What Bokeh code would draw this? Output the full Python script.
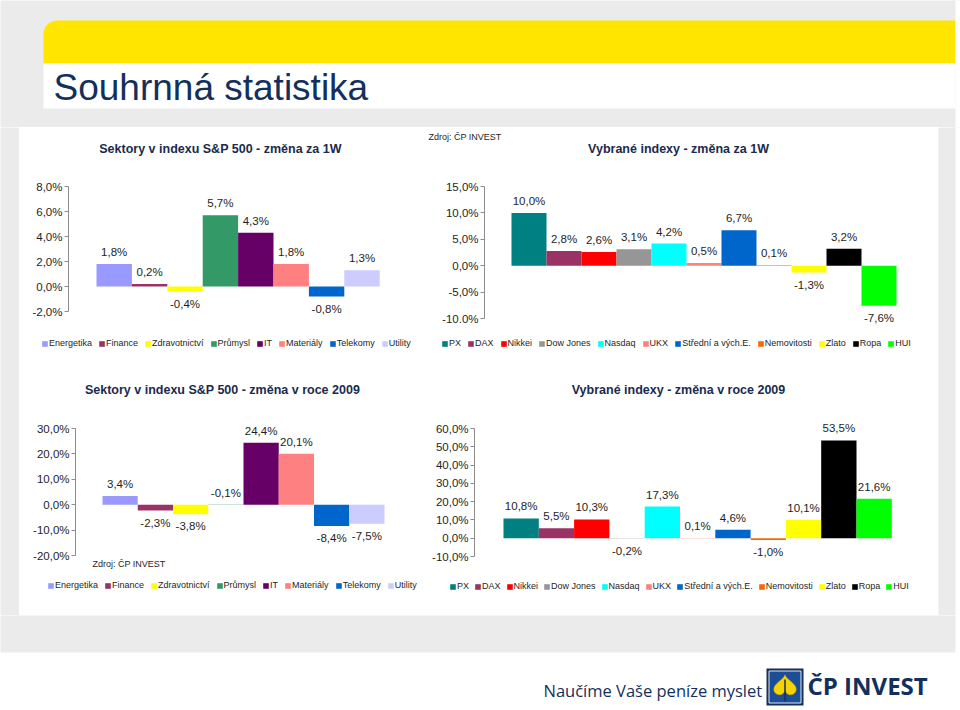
import math
from bokeh.plotting import figure
from bokeh.models import (ColumnDataSource, LabelSet, Label, Legend, LegendItem,
                          LinearAxis, FixedTicker, Range1d, BoxAnnotation)
from bokeh.layouts import column, row
from bokeh.embed import file_html
from bokeh.resources import INLINE
from bokeh.core.properties import value

# ---------------- data ----------------
sectors = ["Energetika", "Finance", "Zdravotnictví", "Průmysl", "IT", "Materiály", "Telekomy", "Utility"]
sector_colors = ["#9999ff", "#993366", "#ffff00", "#339966", "#660066", "#ff8080", "#0066cc", "#ccccff"]
sectors_1w = [1.8, 0.2, -0.4, 5.7, 4.3, 1.8, -0.8, 1.3]
sectors_2009 = [3.4, -2.3, -3.8, -0.1, 24.4, 20.1, -8.4, -7.5]

indexes = ["PX", "DAX", "Nikkei", "Dow Jones", "Nasdaq", "UKX", "Střední a vých.E.",
           "Nemovitosti", "Zlato", "Ropa", "HUI"]
index_colors = ["#008080", "#993366", "#ff0000", "#969696", "#00ffff", "#ff8080", "#0066cc",
                "#ff6600", "#ffff00", "#000000", "#00ff00"]
indexes_1w = [10.0, 2.8, 2.6, 3.1, 4.2, 0.5, 6.7, 0.1, -1.3, 3.2, -7.6]
indexes_2009 = [10.8, 5.5, 10.3, -0.2, 17.3, 0.1, 4.6, -1.0, 10.1, 53.5, 21.6]

ticks_sec_1w = [-2, 0, 2, 4, 6, 8]
tick_labels_sec_1w = ["-2,0%", "0,0%", "2,0%", "4,0%", "6,0%", "8,0%"]
ticks_idx_1w = [-10, -5, 0, 5, 10, 15]
tick_labels_idx_1w = ["-10.0%", "-5,0%", "0,0%", "5,0%", "10,0%", "15,0%"]
ticks_sec_2009 = [-20, -10, 0, 10, 20, 30]
tick_labels_sec_2009 = ["-20,0%", "-10,0%", "0,0%", "10,0%", "20,0%", "30,0%"]
ticks_idx_2009 = [-10, 0, 10, 20, 30, 40, 50, 60]
tick_labels_idx_2009 = ["-10,0%", "0,0%", "10,0%", "20,0%", "30,0%", "40,0%", "50,0%", "60,0%"]

page_title = "Souhrnná statistika"
title_sec_1w = "Sektory v indexu S&P 500 - změna za 1W"
title_idx_1w = "Vybrané indexy - změna za 1W"
title_sec_2009 = "Sektory v indexu S&P 500 - změna v roce 2009"
title_idx_2009 = "Vybrané indexy - změna v roce 2009"
source_note = "Zdroj: ČP INVEST"
tagline = "Naučíme Vaše peníze myslet"
brand = "ČP INVEST"

# ---------------- styles ----------------
GRAY = "#ebebeb"
NAVY = "#13305d"
TITLE_NAVY = "#1a2b4c"
TEXT = "#1e1e1e"
AXIS = "#8c8c8c"
FONT = "Liberation Sans"


def fmt(v):
    return f"{v:.1f}".replace(".", ",") + "%"


def blank(w, h, bg):
    p = figure(width=w, height=h, x_range=Range1d(0, w), y_range=Range1d(0, h),
               output_backend="svg", toolbar_location=None, min_border=0,
               x_axis_location=None, y_axis_location=None,
               background_fill_color=bg, border_fill_color=bg, outline_line_color=None)
    p.grid.visible = False
    return p


def bar_chart(title, title_xy, names, colors, vals, ticks, tick_labels, w, h,
              geo, legend_xy, legend_spacing, flip=(), note_xy=None):
    # geo: axis x px, first bar left px, bar width px, top tick px, bottom tick px (from canvas top-left)
    ax_px, bl, b, yt, yb = geo
    n = len(vals)
    T, B = ticks[-1], ticks[0]
    s = (yb - yt) / (T - B)
    p = figure(width=w, height=h,
               x_range=Range1d(-0.5 - bl / b, -0.5 + (w - bl) / b),
               y_range=Range1d(T - (h - yt) / s, T + yt / s),
               output_backend="svg", toolbar_location=None,
               x_axis_location=None, y_axis_location=None, min_border=0,
               background_fill_color="white", border_fill_color="white",
               outline_line_color=None)
    p.grid.visible = False
    dy = []
    for nm, v in zip(names, vals):
        up = (v >= 0) != (nm in flip)
        dy.append(12 if up else -12)
    src = ColumnDataSource(dict(x=list(range(n)), top=vals, color=colors,
                                label=[fmt(v) for v in vals], dy=dy))
    r = p.vbar(x="x", top="top", bottom=0, width=1.0, fill_color="color",
               line_color=None, source=src)
    p.add_layout(LabelSet(x="x", y="top", text="label", y_offset="dy", source=src,
                          text_align="center", text_baseline="middle",
                          text_font=value(FONT), text_font_size="11.5px",
                          text_color=TEXT))
    ax = LinearAxis(ticker=FixedTicker(ticks=ticks),
                    major_label_overrides={t: lab for t, lab in zip(ticks, tick_labels)},
                    bounds=(B, T), fixed_location=-0.5 - (bl - ax_px) / b,
                    axis_line_color=AXIS, major_tick_line_color=AXIS,
                    major_tick_out=4, major_tick_in=0, minor_tick_out=0, minor_tick_in=0,
                    major_label_standoff=2, major_label_text_font=FONT,
                    major_label_text_font_size="11.5px", major_label_text_color=TEXT)
    p.add_layout(ax, "left")
    items = [LegendItem(label=nm, renderers=[r], index=i) for i, nm in enumerate(names)]
    leg = Legend(items=items, orientation="horizontal", location=legend_xy,
                 glyph_width=7, glyph_height=7, label_height=10, label_width=0,
                 label_standoff=1, spacing=legend_spacing, padding=0, margin=0,
                 border_line_color=None, background_fill_alpha=0,
                 label_text_font=FONT, label_text_font_size="9px",
                 label_text_color=TEXT)
    p.add_layout(leg, "center")
    p.add_layout(Label(x=title_xy[0], y=h - title_xy[1], x_units="screen", y_units="screen",
                       text=title, text_align="center", text_baseline="middle",
                       text_font=FONT, text_font_style="bold", text_font_size="12.5px",
                       text_color=TITLE_NAVY))
    if note_xy is not None:
        p.add_layout(Label(x=note_xy[0], y=h - note_xy[1], x_units="screen", y_units="screen",
                           text=source_note, text_align="left", text_baseline="middle",
                           text_font=FONT, text_font_size="9px",
                           text_color=TEXT))
    return p


c1 = bar_chart(title_sec_1w, (201, 21), sectors, sector_colors, sectors_1w,
               ticks_sec_1w, tick_labels_sec_1w, 401, 241,
               (49, 77, 35.4, 59, 184), (22, 20), 6)
c2 = bar_chart(title_idx_1w, (258, 21), indexes, index_colors, indexes_1w,
               ticks_idx_1w, tick_labels_idx_1w, 518, 241,
               (64, 91, 35.0, 59, 191), (21, 20), 6, note_xy=(8, 9))
c3 = bar_chart(title_sec_2009, (203, 21), sectors, sector_colors, sectors_2009,
               ticks_sec_2009, tick_labels_sec_2009, 401, 247,
               (56, 83, 35.25, 60, 187), (28, 25), 6,
               flip=("Průmysl",), note_xy=(73, 195))
c4 = bar_chart(title_idx_2009, (258, 21), indexes, index_colors, indexes_2009,
               ticks_idx_2009, tick_labels_idx_2009, 518, 247,
               (54, 83, 35.3, 60, 188), (29, 24), 5)

# ---------------- header ----------------
HW, HH = 960, 127
header = blank(HW, HH, GRAY)
header.quad(left=[955], right=[HW + 5], bottom=[-5], top=[HH + 5], fill_color="white", line_color=None)
header.add_layout(BoxAnnotation(left=43, right=955, bottom=HH - 63, top=HH - 20,
                                fill_color="#ffe500", fill_alpha=1, line_color=None,
                                border_radius=dict(top_left=14, top_right=0,
                                                   bottom_right=0, bottom_left=0),
                                level="underlay"))
header.add_layout(BoxAnnotation(left=43, right=955, bottom=HH - 108, top=HH - 63,
                                fill_color="white", fill_alpha=1, line_color=None,
                                level="underlay"))
header.text(x=[53], y=[HH - 87], text=[page_title], text_font=value(FONT),
            text_font_size="37px", text_baseline="middle", text_color=NAVY)

# ---------------- side strips ----------------
gray_l = blank(19, 488, GRAY)
gray_r = blank(22, 488, GRAY)
gray_r.quad(left=[17], right=[30], bottom=[-5], top=[500], fill_color="white", line_color=None)

# ---------------- footer ----------------
FW, FH = 960, 95
footer = blank(FW, FH, "white")
footer.add_layout(BoxAnnotation(left=-5, right=955, bottom=FH - 37, top=FH + 5,
                                fill_color=GRAY, fill_alpha=1, line_color=None,
                                level="underlay"))
footer.text(x=[543], y=[FH - 75], text=[tagline], text_font=value("Open Sans"),
            text_font_size="16.5px", text_baseline="middle", text_color=NAVY)
footer.quad(left=[766], right=[803], top=[FH - 53], bottom=[FH - 90],
            fill_color=NAVY, line_color=None)
footer.quad(left=[768.5], right=[800.5], top=[FH - 55.5], bottom=[FH - 87.5],
            fill_color="#1d4d97", line_color="#dfe6f2", line_width=1)
ts = [i * 2 * math.pi / 60 for i in range(60)]
lx = [784.5 + 0.7 * 16 * math.sin(t) ** 3 for t in ts]
ly = [FH - 71 - 0.7 * (13 * math.cos(t) - 5 * math.cos(2 * t) - 2 * math.cos(3 * t) - math.cos(4 * t)) for t in ts]
footer.patch(x=lx, y=ly, fill_color="#f5d400", line_color="#c9a800", line_width=0.5)
footer.segment(x0=[784.5], y0=[FH - 64], x1=[784.5], y1=[FH - 86], line_color=NAVY, line_width=1.5)
footer.text(x=[807], y=[FH - 69.5], text=[brand], text_font=value("Open Sans"),
            text_font_style="bold", text_font_size="24px", text_baseline="middle",
            text_color=NAVY)

body = row(gray_l, column(row(c1, c2), row(c3, c4)), gray_r)
page = column(header, body, footer)

open("out.html", "w").write(file_html(page, INLINE, title=page_title))
